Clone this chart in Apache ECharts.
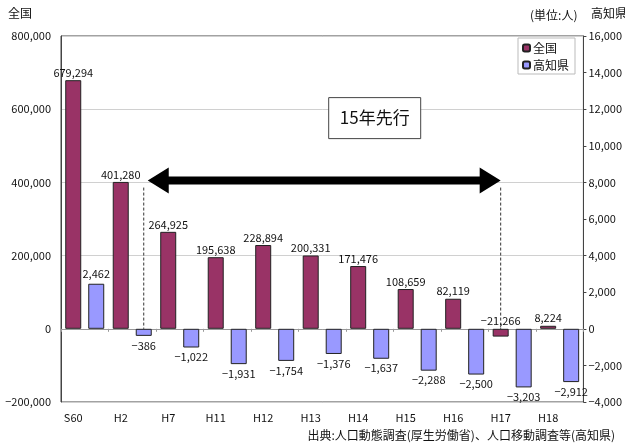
<!DOCTYPE html>
<html><head><meta charset="utf-8">
<script src="https://cdn.jsdelivr.net/npm/echarts/dist/echarts.min.js"></script>
<style>html,body{margin:0;padding:0;background:#fff}#c{width:625px;height:448px}</style>
</head><body><div id="c"></div>
<script>
const categories = ['S60','H2','H7','H11','H12','H13','H14','H15','H16','H17','H18'];
const nationalValues = [679294,401280,264925,195638,228894,200331,171476,108659,82119,-21266,8224];
const kochiValues = [2462,-386,-1022,-1931,-1754,-1376,-1637,-2288,-2500,-3203,-2912];
const seriesNames = ['全国','高知県'];

const FONT = '"Noto Sans CJK JP", sans-serif';
const fmt = n => (n < 0 ? '−' : '') + Math.abs(n).toLocaleString('en-US');
const BAR_W = 16, GAP = 7;
const OFF = (BAR_W + GAP) / 2;

const chart = echarts.init(document.getElementById('c'), null, {renderer:'canvas'});
const option = {
  animation: false,
  textStyle: {fontFamily: FONT},
  grid: {left: 61, right: 40, top: 36, bottom: 46, show: true, borderColor: '#444', borderWidth: 1, backgroundColor: 'transparent'},
  legend: {
    orient: 'vertical', left: 518, top: 38, itemWidth: 7, itemHeight: 7, itemGap: 3,
    padding: [3, 6, 2, 4], borderColor: '#bbb', borderWidth: 1, backgroundColor: '#fff',
    textStyle: {fontFamily: FONT, fontSize: 12, lineHeight: 14, color: '#111', padding: [0,0,0,-2]},
    data: seriesNames
  },
  xAxis: [
    {type: 'category', data: categories, boundaryGap: true,
     axisLine: {onZero: true, lineStyle: {color: '#999', width: 1}},
     axisTick: {show: true, length: 3, inside: false, lineStyle: {color: '#999'}},
     axisLabel: {show: false}},
    {type: 'category', data: categories, boundaryGap: true, position: 'bottom',
     axisLine: {show: false}, axisTick: {show: false},
     axisLabel: {show: true, margin: 10, fontSize: 11, color: '#111', fontFamily: FONT, padding: [0, 2*OFF, 0, 0]}}
  ],
  yAxis: [
    {type: 'value', min: -200000, max: 800000, interval: 200000, position: 'left',
     axisLine: {show: true, lineStyle: {color: '#444'}},
     axisTick: {show: false},
     splitLine: {show: true, lineStyle: {color: '#d0d0d0'}},
     axisLabel: {fontSize: 11, color: '#111', margin: 10, formatter: fmt, fontFamily: FONT}},
    {type: 'value', min: -4000, max: 16000, interval: 2000, position: 'right',
     axisLine: {show: true, lineStyle: {color: '#444'}},
     axisTick: {show: true, length: 3, lineStyle: {color: '#444'}},
     splitLine: {show: false},
     axisLabel: {fontSize: 11, color: '#111', margin: 5, formatter: fmt, fontFamily: FONT}}
  ],
  series: [
    {name: seriesNames[0], type: 'bar', xAxisIndex: 0, yAxisIndex: 0, data: nationalValues,
     barWidth: BAR_W, barGap: (GAP / BAR_W * 100) + '%',
     itemStyle: {color: '#993366', borderColor: '#222', borderWidth: 1},
     label: {show: true, position: 'top', distance: 2, fontSize: 11, color: '#111', fontFamily: FONT,
             formatter: p => fmt(p.value)}},
    {name: seriesNames[1], type: 'bar', xAxisIndex: 0, yAxisIndex: 1, data: kochiValues,
     barWidth: BAR_W,
     itemStyle: {color: '#9999FF', borderColor: '#222', borderWidth: 1},
     label: {show: true, position: 'outside', distance: 4, fontSize: 11, color: '#111', fontFamily: FONT,
             formatter: p => fmt(p.value)}}
  ]
};
chart.setOption(option);

// annotations positioned from axis scales
const xH2 = chart.convertToPixel({xAxisIndex: 0}, 'H2') + OFF;   // Kochi bar of H2
const xH17 = chart.convertToPixel({xAxisIndex: 0}, 'H17') - OFF; // national bar of H17
const xH14 = chart.convertToPixel({xAxisIndex: 0}, 'H14');
const yArrow = chart.convertToPixel({yAxisIndex: 0}, 405000);
const yZero = chart.convertToPixel({yAxisIndex: 0}, 0);
const yBox = chart.convertToPixel({yAxisIndex: 0}, 577000);
const x1 = xH2 + 4, x2 = xH17;
const HL = 21, HH = 13, SH = 4;
chart.setOption({
  graphic: [
    {type: 'text', left: 8, top: 7, style: {text: '全国', font: '12px ' + FONT, fill: '#111'}},
    {type: 'text', left: 530, top: 9, style: {text: '(単位:人)', font: '12px ' + FONT, fill: '#111'}},
    {type: 'text', left: 591, top: 7, style: {text: '高知県', font: '12px ' + FONT, fill: '#111'}},
    {type: 'text', right: 10, top: 429, style: {text: '出典:人口動態調査(厚生労働省)、人口移動調査等(高知県)', font: '12px ' + FONT, fill: '#111'}},
    {type: 'line', shape: {x1: xH2, y1: yArrow + 7, x2: xH2, y2: yZero}, style: {stroke: '#333', lineWidth: 1, lineDash: [3, 2]}},
    {type: 'line', shape: {x1: xH17, y1: yArrow + 7, x2: xH17, y2: yZero}, style: {stroke: '#333', lineWidth: 1, lineDash: [3, 2]}},
    {type: 'polygon', shape: {points: [
      [x1, yArrow], [x1 + HL, yArrow - HH], [x1 + HL, yArrow - SH], [x2 - HL, yArrow - SH], [x2 - HL, yArrow - HH],
      [x2, yArrow], [x2 - HL, yArrow + HH], [x2 - HL, yArrow + SH], [x1 + HL, yArrow + SH], [x1 + HL, yArrow + HH]
    ]}, style: {fill: '#000'}},
    {type: 'rect', shape: {x: xH14 - 41, y: yBox - 20, width: 92, height: 41}, style: {fill: '#fff', stroke: '#444', lineWidth: 1}},
    {type: 'text', x: xH14 + 5, y: yBox, style: {text: '15年先行', font: '17px ' + FONT, fill: '#111', align: 'center', verticalAlign: 'middle'}}
  ]
});
</script></body></html>
